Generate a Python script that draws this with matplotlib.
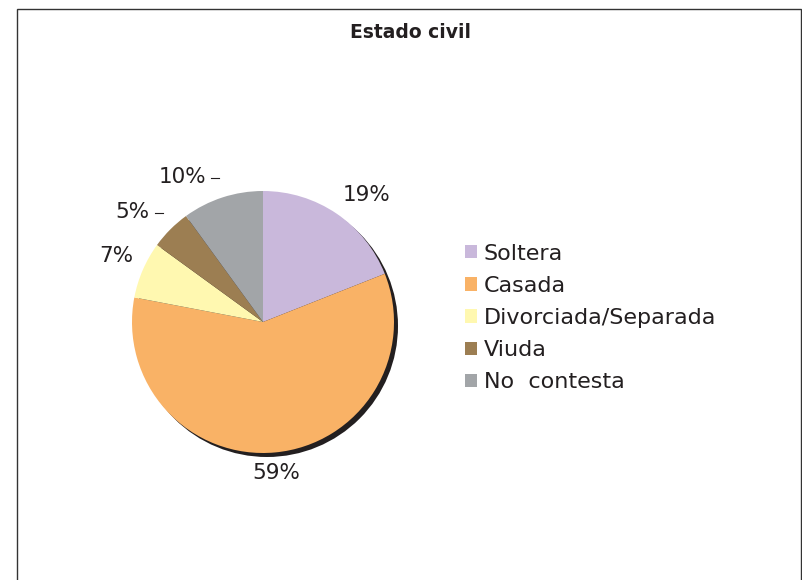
import numpy as np
import matplotlib
matplotlib.use("Agg")
import matplotlib.pyplot as plt
from matplotlib.patches import Circle, Rectangle

# data
categories = ["Soltera", "Casada", "Divorciada/Separada", "Viuda", "No  contesta"]
values = [19, 59, 7, 5, 10]
colors = ["#C9B8DB", "#F9B266", "#FFF8B0", "#9C7E52", "#A2A5A8"]

W, H = 803, 580
fig = plt.figure(figsize=(W / 100, H / 100), dpi=100)
fig.patch.set_facecolor("white")

# outer frame
fig.patches.append(Rectangle((17.5 / W, -0.05), (801 - 17.5) / W, 1.05 - 8.5 / H,
                             transform=fig.transFigure, fill=False,
                             edgecolor="#333333", linewidth=1.0))

# pie: center (263, 322) px, radius 131 px
R = 131.0
cx, cy = 263.0, 322.0
span = 1.4
ax = fig.add_axes([(cx - R * span) / W, (H - cy - R * span) / H,
                   2 * R * span / W, 2 * R * span / H])

# shadow
off = 4.0 / R
ax.add_patch(Circle((off, -off), 1.0, facecolor="#231F20", edgecolor="none", zorder=0))

wedges, _ = ax.pie(values, colors=colors, startangle=90, counterclock=False,
                   radius=1.0, wedgeprops=dict(linewidth=0))
for w in wedges:
    w.set_zorder(1)
ax.set_xlim(-span, span)
ax.set_ylim(-span, span)
ax.set_aspect("equal")
ax.axis("off")

# percentage labels
leaders = {3, 4}
for i, w in enumerate(wedges):
    ang = np.deg2rad((w.theta1 + w.theta2) / 2)
    c, s = np.cos(ang), np.sin(ang)
    r = 1.08
    x, y = r * c, r * s
    ha = "left" if c > 0.3 else ("right" if c < -0.3 else "center")
    va = "bottom" if s > 0.3 else ("top" if s < -0.3 else "center")
    if i in leaders:
        ax.plot([x - 0.06, x], [y + 0.07, y + 0.07], color="#231F20", lw=0.8,
                clip_on=False)
        x -= 0.1
    ax.text(x, y, f"{values[i]}%", ha=ha, va=va, fontsize=15.5,
            color="#231F20", clip_on=False)

fig.text(410 / W, 1 - 33 / H, "Estado civil", ha="center", va="center",
         fontsize=13.5, fontweight="bold", color="#231F20")

handles = [Rectangle((0, 0), 1, 1, facecolor=col, edgecolor="none") for col in colors]
fig.legend(handles, categories, loc="center left",
           bbox_to_anchor=(445 / W, 1 - 318 / H), frameon=False,
           fontsize=16, handlelength=0.55, handleheight=0.55,
           handletextpad=0.3, labelspacing=0.55, labelcolor="#231F20")

fig.savefig("out.png", dpi=100)
